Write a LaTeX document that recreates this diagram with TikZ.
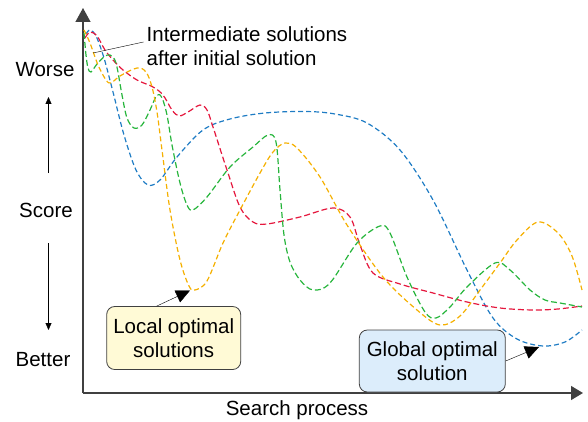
\documentclass[tikz,border=0pt]{standalone}
\usepackage{fontspec}
\setmainfont{Liberation Sans}
\usepackage{tikz}
\usetikzlibrary{positioning,arrows.meta,calc}
\definecolor{tblue}{HTML}{1F7CC4}
\definecolor{tred}{HTML}{E5173D}
\definecolor{tgreen}{HTML}{27B53C}
\definecolor{torange}{HTML}{F5B000}
\definecolor{localfill}{HTML}{FFFAD6}
\definecolor{globalfill}{HTML}{DCEDFB}
\tikzset{
  axis/.style={line width=1.3pt, color=black!75},
  trace/.style={line width=1.2pt, dash pattern=on 5pt off 3pt, smooth, tension=0.55},
  ptr/.style={-{Triangle[length=14pt,width=13pt]}, thin, color=black},
  sc/.style={-{Triangle[length=7pt,width=6pt]}, thin, color=black},
  note/.style={rectangle, draw=black!75, line width=0.8pt, rounded corners=8pt, align=center, inner sep=2pt},
  lbl/.style={font=\fontsize{20.5}{23.5}\selectfont, inner sep=0pt}
}
\begin{document}
\begin{tikzpicture}[x=1pt, y=-1pt]
\useasboundingbox (0,0) rectangle (588,422);
% axes
\coordinate (o) at (83,393);
\coordinate (ytop) at (83,8);
\coordinate (xend) at (583,393);
\draw[axis, -{Triangle[length=14pt,width=15pt]}] (o) -- (ytop);
\draw[axis, -{Triangle[length=12pt,width=14pt]}] (o) -- (xend);
\node[lbl] (search) at (297,410) {Search process};
% score labels
\node[lbl] (worse) at (45,70) {Worse};
\node[lbl] (score) at (46,210) {Score};
\node[lbl] (better) at (43,360) {Better};
\coordinate (uptail) at (48.5,173);
\coordinate (uptip) at (48.5,97);
\coordinate (dntail) at (48.5,243);
\coordinate (dntip) at (48.5,330);
\draw[sc] (uptail) -- (uptip);
\draw[sc] (dntail) -- (dntip);
% search traces
\draw[trace, tblue] plot coordinates {(86,34) (90,30) (96,36) (104,58) (113,92) (124,135) (136,170) (148,185) (160,180) (177,157) (203,130) (230,119) (265,113) (305,111.5) (335,114) (367,123) (400,150) (433,200) (467,270) (493,318) (517,339) (543,346) (565,342) (582,330)};
\draw[trace, tred, dash pattern=on 6pt off 3pt] plot coordinates {(85,38) (90,32) (97,36) (105,50) (113,60) (123,70) (137,80) (153,87) (163,95) (172,110) (179,116) (188,112) (200,105) (207,110) (213,127) (227,170) (240,207) (253,222) (267,224) (300,217) (333,208) (350,217) (360,245) (373,273) (400,284) (433,293) (467,302) (500,308) (533,310) (558,309) (582,306)};
\draw[trace, tgreen, dash pattern=on 6pt off 3pt] plot coordinates {(84,33) (86,55) (88,68) (91,72) (97,64) (104,57) (110,55) (116,63) (122,95) (127,118) (134,128) (142,125) (150,110) (157,95) (162,98) (167,115) (172,145) (180,183) (187,205) (193,210) (207,197) (230,167) (253,147) (268,135) (276,142) (280,190) (284,235) (290,262) (300,280) (313,290) (330,283) (357,243) (380,226) (390,233) (407,277) (425,312) (436,318) (450,307) (467,287) (495,263) (510,270) (530,290) (545,300) (560,303) (582,307)};
\draw[trace, torange] plot coordinates {(84,30) (90,43) (98,65) (106,80) (111,83) (120,76) (137,68) (146,72) (152,87) (157,112) (162,150) (170,210) (180,260) (189,286) (195,290) (207,281) (223,243) (240,210) (260,173) (273,152) (285,143) (297,148) (320,177) (347,225) (383,277) (417,310) (440,325) (460,316) (480,290) (500,263) (517,240) (538,222) (558,233) (572,256) (582,290)};
% annotations
\node[lbl, align=left, anchor=west] (inter) at (146.5,46) {Intermediate solutions\\after initial solution};
\coordinate (start) at (93,53);
\draw[thin] ([xshift=-3pt,yshift=4pt]inter.west) -- (start);
\node[note, lbl, fill=localfill, minimum width=134pt, minimum height=63pt] (local) at (173.7,338) {Local optimal\\solutions};
\coordinate (lmin) at (190,290.5);
\draw[ptr] ([xshift=-17pt]local.north) -- (lmin);
\node[note, lbl, fill=globalfill, minimum width=146pt, minimum height=62pt] (global) at (432.3,361) {Global optimal\\solution};
\coordinate (gmin) at (539,347);
\draw[ptr] (global.east) -- (gmin);
\end{tikzpicture}
\end{document}
